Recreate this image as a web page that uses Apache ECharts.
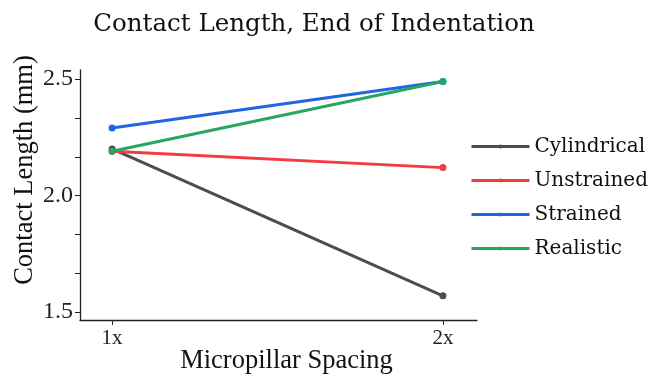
<!DOCTYPE html>
<html>
<head>
<meta charset="utf-8">
<script src="https://cdn.jsdelivr.net/npm/echarts@6/dist/echarts.min.js"></script>
<style>
  html, body { margin: 0; padding: 0; background: #fff; }
  #chart { width: 651px; height: 377px; }
</style>
</head>
<body>
<div id="chart"></div>
<script>
// Micropillar spacing levels (x positions) and their labels
const spacings = [1, 2];
const spacingLabels = ['1x', '2x'];

// Contact length (mm) at the end of indentation for each model
const cylindrical = [2.20, 1.57];
const unstrained = [2.19, 2.12];
const strained = [2.29, 2.49];
const realistic = [2.19, 2.49];

const yLabelValues = [1.5, 2.0, 2.5];
const yTickValues = [1.5, 1.5 + 1 / 6, 1.5 + 2 / 6, 2.0, 2.0 + 1 / 6, 2.0 + 2 / 6, 2.5];

const seriesDefs = [
  { name: 'Cylindrical', values: cylindrical, color: '#4d4d4d' },
  { name: 'Unstrained', values: unstrained, color: '#f43b3f' },
  { name: 'Strained', values: strained, color: '#1f66e3' },
  { name: 'Realistic', values: realistic, color: '#27a562' }
];

const HEAD_FONT = 'DejaVu Serif';
const AXIS_FONT = 'Liberation Serif';

const chart = echarts.init(document.getElementById('chart'));
chart.setOption({
  backgroundColor: '#fff',
  animation: false,
  textStyle: { fontFamily: AXIS_FONT },
  title: {
    text: 'Contact Length, End of Indentation',
    left: 309,
    textAlign: 'center',
    top: 7,
    textStyle: { fontFamily: HEAD_FONT, fontSize: 24.5, fontWeight: 'normal', color: '#111' }
  },
  grid: { left: 80, right: 174, top: 70, bottom: 57, containLabel: false, outerBoundsMode: 'none' },
  xAxis: {
    type: 'value',
    min: 0.903,
    max: 2.103,
    name: 'Micropillar Spacing',
    nameLocation: 'middle',
    nameGap: 28,
    nameMoveOverlap: false,
    nameTextStyle: { fontFamily: AXIS_FONT, fontSize: 26.5, color: '#111', padding: [0, 0, 0, 16] },
    axisLine: { lineStyle: { color: '#222', width: 1.3 } },
    axisTick: { customValues: spacings, length: 5, lineStyle: { color: '#222' } },
    axisLabel: {
      customValues: spacings,
      fontFamily: AXIS_FONT, fontSize: 21, color: '#222', margin: 8,
      formatter: v => spacingLabels[spacings.indexOf(Math.round(v))] || ''
    },
    splitLine: { show: false }
  },
  yAxis: {
    type: 'value',
    min: 1.466,
    max: 2.539,
    name: 'Contact Length (mm)',
    nameLocation: 'middle',
    nameGap: 41,
    nameMoveOverlap: false,
    nameRotate: 90,
    nameTextStyle: { fontFamily: AXIS_FONT, fontSize: 26.5, color: '#111', padding: [0, 0, 0, 50] },
    axisLine: { show: true, lineStyle: { color: '#222', width: 1.3 } },
    axisTick: { show: true, customValues: yTickValues, length: 5, lineStyle: { color: '#222' } },
    axisLabel: {
      customValues: yLabelValues,
      fontFamily: AXIS_FONT, fontSize: 24, color: '#222', margin: 7,
      formatter: v => v.toFixed(1)
    },
    splitLine: { show: false }
  },
  legend: {
    orient: 'vertical',
    left: 465,
    top: 130,
    itemWidth: 58,
    itemHeight: 5,
    itemGap: 11,
    lineStyle: { width: 3 },
    textStyle: { fontFamily: HEAD_FONT, fontSize: 20, color: '#111', lineHeight: 23 },
    data: seriesDefs.map(s => s.name)
  },
  series: seriesDefs.map(s => ({
    name: s.name,
    type: 'line',
    data: spacings.map((x, i) => [x, s.values[i]]),
    symbol: 'circle',
    symbolSize: 7,
    color: s.color,
    lineStyle: { width: 3, color: s.color },
    itemStyle: { color: s.color }
  }))
});
</script>
</body>
</html>
